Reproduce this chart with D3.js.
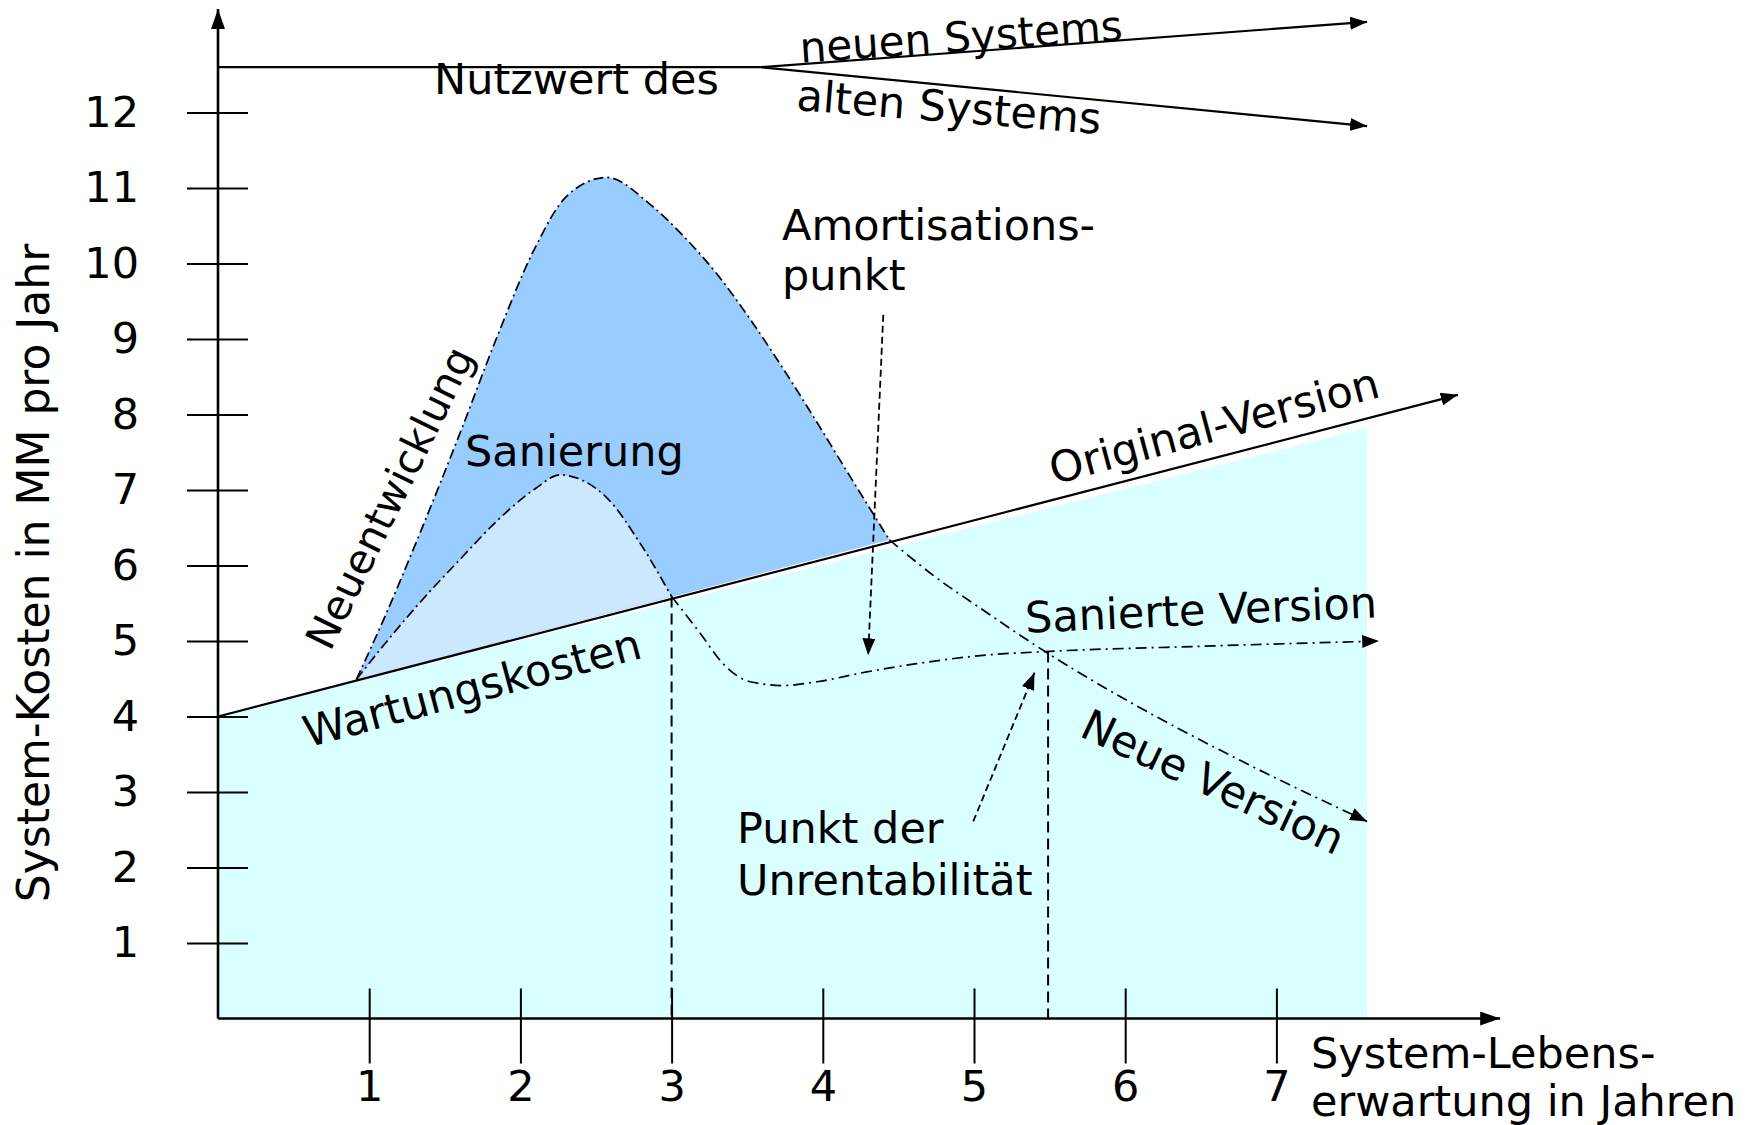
<!DOCTYPE html>
<html>
<head>
<meta charset="utf-8">
<script src="https://cdn.jsdelivr.net/npm/d3@7"></script>
<style>
  body { margin: 0; background: #fff; }
  svg text { font-family: "DejaVu Sans", Verdana, sans-serif; fill: #000; }
</style>
</head>
<body>
<svg width="1746" height="1125"></svg>
<script>
// Tick values
var xTicks = [1, 2, 3, 4, 5, 6, 7];
var yTicks = [1, 2, 3, 4, 5, 6, 7, 8, 9, 10, 11, 12];

// Wartungskosten der Original-Version (straight line)
var originalX = [0, 8.2];
var originalY = [4, 8.26];
var wartungFillX = [0, 7.6];
var wartungFillY = [4, 7.82];

// Neuentwicklung: hump up to the Amortisationspunkt, then "Neue Version"
var neuX = [0.915, 1.09, 1.34, 1.6, 1.85, 2.09, 2.31, 2.57, 2.86, 3.08, 3.3, 3.52, 3.74, 3.96, 4.18, 4.44];
var neuY = [4.49, 5.26, 6.45, 7.75, 9.05, 10.18, 10.9, 11.14, 10.78, 10.36, 9.86, 9.26, 8.6, 7.9, 7.18, 6.34];
var neueVersionX = [4.44, 4.73, 5.06, 5.47, 6.05, 6.71, 7.6];
var neueVersionY = [6.34, 5.87, 5.41, 4.86, 4.17, 3.47, 2.61];

// Sanierung: hump, then "Sanierte Version"
var sanX = [0.915, 1.09, 1.34, 1.6, 1.85, 2.1, 2.26, 2.57, 2.79, 3.0];
var sanY = [4.49, 4.93, 5.52, 6.08, 6.6, 7.02, 7.2, 6.9, 6.3, 5.59];
var sanierteX = [3.0, 3.19, 3.34, 3.52, 3.74, 3.96, 4.29, 4.62, 5.06, 5.47, 6.5, 7.68];
var sanierteY = [5.59, 5.1, 4.7, 4.46, 4.41, 4.46, 4.59, 4.7, 4.81, 4.86, 4.93, 5.0];

// Vertical marker lines (Amortisation der Sanierung / Punkt der Unrentabilitaet)
var markX = [3.0, 5.49];
var markY = [5.59, 4.86];

// Nutzwert lines
var nutzwertX = [0, 3.59];
var nutzwertY = [12.6, 12.6];
var nutzNeuX = [3.59, 7.6], nutzNeuY = [12.6, 13.2];
var nutzAltX = [3.59, 7.6], nutzAltY = [12.6, 11.82];

// annotation arrows
var amortX = [4.40, 4.30], amortY = [9.32, 4.81];
var unrentX = [4.995, 5.40], unrentY = [2.61, 4.58];

// axis ends
var xAxisEnd = 8.48, yAxisEnd = 13.37;

var svg = d3.select("svg");

var x = d3.scaleLinear().domain([0, 8]).range([218, 1427.6]);
var y = d3.scaleLinear().domain([0, 12]).range([1018.5, 112.5]);

var defs = svg.append("defs");
function marker(id, len, wid) {
    defs.append("marker")
        .attr("id", id)
        .attr("markerUnits", "userSpaceOnUse")
        .attr("viewBox", "0 0 " + len + " " + wid)
        .attr("refX", len).attr("refY", wid / 2)
        .attr("markerWidth", len).attr("markerHeight", wid)
        .attr("orient", "auto")
        .append("path")
        .attr("d", "M0,0L" + len + "," + (wid / 2) + "L0," + wid + "Z")
        .attr("fill", "#000");
}
marker("arrowBig", 20, 14);
marker("arrow", 17, 13);

var smooth = d3.line()
    .x(function(d) { return x(d[0]); })
    .y(function(d) { return y(d[1]); })
    .curve(d3.curveMonotoneX);
var straight = d3.line()
    .x(function(d) { return x(d[0]); })
    .y(function(d) { return y(d[1]); });

// fills
var cyanPts = [[0, 0]].concat(d3.zip(wartungFillX, wartungFillY)).concat([[wartungFillX[1], 0]]);
svg.append("path").attr("d", straight(cyanPts) + "Z").attr("fill", "#D9FFFF");

svg.append("path").attr("d", smooth(d3.zip(neuX, neuY)) + "Z").attr("fill", "#99CCFF");
svg.append("path").attr("d", smooth(d3.zip(sanX, sanY)) + "Z").attr("fill", "#CCE8FF");

// vertical dashed lines
svg.selectAll("line.mark")
    .data(d3.zip(markX, markY))
    .enter().append("line")
    .attr("class", "mark")
    .attr("x1", function(d) { return x(d[0]); })
    .attr("x2", function(d) { return x(d[0]); })
    .attr("y1", function(d) { return y(d[1]); })
    .attr("y2", y(0))
    .attr("stroke", "#000").attr("stroke-width", 2)
    .attr("stroke-dasharray", "11,6");

// Original-Version line
svg.append("path").attr("d", straight(d3.zip(originalX, originalY)))
    .attr("fill", "none").attr("stroke", "#000").attr("stroke-width", 2.2)
    .attr("marker-end", "url(#arrow)");

// Nutzwert lines
svg.append("path").attr("d", straight(d3.zip(nutzwertX, nutzwertY)))
    .attr("fill", "none").attr("stroke", "#000").attr("stroke-width", 2.2);
[[nutzNeuX, nutzNeuY], [nutzAltX, nutzAltY]].forEach(function(s) {
    svg.append("path").attr("d", straight(d3.zip(s[0], s[1])))
        .attr("fill", "none").attr("stroke", "#000").attr("stroke-width", 2.2)
        .attr("marker-end", "url(#arrow)");
});

// curves
svg.append("path").attr("d", smooth(d3.zip(neuX, neuY)))
    .attr("fill", "none").attr("stroke", "#000").attr("stroke-width", 1.7)
    .attr("stroke-dasharray", "10,4,2,4");
svg.append("path").attr("d", smooth(d3.zip(neueVersionX, neueVersionY)))
    .attr("fill", "none").attr("stroke", "#000").attr("stroke-width", 1.7)
    .attr("stroke-dasharray", "11,5,2,5")
    .attr("marker-end", "url(#arrow)");
svg.append("path").attr("d", smooth(d3.zip(sanX, sanY)))
    .attr("fill", "none").attr("stroke", "#000").attr("stroke-width", 1.7)
    .attr("stroke-dasharray", "10,4,2,4");
svg.append("path").attr("d", smooth(d3.zip(sanierteX, sanierteY)))
    .attr("fill", "none").attr("stroke", "#000").attr("stroke-width", 1.7)
    .attr("stroke-dasharray", "11,5,2,5")
    .attr("marker-end", "url(#arrow)");

// annotation arrows
[[amortX, amortY], [unrentX, unrentY]].forEach(function(s) {
    svg.append("path").attr("d", straight(d3.zip(s[0], s[1])))
        .attr("fill", "none").attr("stroke", "#000").attr("stroke-width", 1.8)
        .attr("stroke-dasharray", "7,4")
        .attr("marker-end", "url(#arrow)");
});

// axes
var gy = svg.append("g")
    .attr("transform", "translate(" + x(0) + ",0)")
    .call(d3.axisLeft(y).tickValues(yTicks).tickSize(31).tickPadding(48));
gy.select(".domain").remove();
gy.attr("font-size", 43).attr("font-family", "DejaVu Sans, Verdana, sans-serif");
gy.selectAll(".tick line").attr("x1", 30).attr("stroke-width", 2);

var gx = svg.append("g")
    .attr("transform", "translate(0," + y(0) + ")")
    .call(d3.axisBottom(x).tickValues(xTicks).tickSize(45).tickPadding(7).tickFormat(d3.format("d")));
gx.select(".domain").remove();
gx.attr("font-size", 43).attr("font-family", "DejaVu Sans, Verdana, sans-serif");
gx.selectAll(".tick line").attr("y1", -30).attr("stroke-width", 2);

svg.append("line")
    .attr("x1", x(0)).attr("y1", y(0)).attr("x2", x(0)).attr("y2", y(yAxisEnd))
    .attr("stroke", "#000").attr("stroke-width", 2.6).attr("marker-end", "url(#arrowBig)");
svg.append("line")
    .attr("x1", x(0)).attr("y1", y(0)).attr("x2", x(xAxisEnd)).attr("y2", y(0))
    .attr("stroke", "#000").attr("stroke-width", 2.6).attr("marker-end", "url(#arrowBig)");

// labels
function label(txt, px, py, rot, anchor, center) {
    var t = svg.append("text")
        .attr("transform", "translate(" + px + "," + py + ") rotate(" + (rot || 0) + ")")
        .attr("font-size", 43)
        .attr("text-anchor", anchor || "start")
        .text(txt);
    if (center) t.attr("dominant-baseline", "central");
    return t;
}

label("System-Kosten in MM pro Jahr", 33, 573, -90, "middle", true).attr("font-size", 44);
label("System-Lebens-", 1311, 1068);
label("erwartung in Jahren", 1311, 1116);

label("Nutzwert des", 434, 94);
label("neuen Systems", 961, 37, -4, "middle", true).attr("font-size", 42);
label("alten Systems", 949, 107, 4.5, "middle", true);
label("Amortisations-", 782, 240);
label("punkt", 782, 290);
label("Neuentwicklung", 390, 498, -64, "middle", true).attr("font-size", 41);
label("Sanierung", 465, 466);
label("Original-Version", 1214, 426, -15, "middle", true);
label("Wartungskosten", 472, 688, -15, "middle", true);
label("Sanierte Version", 1201, 610, -2.5, "middle", true);
label("Neue Version", 1213, 782, 25, "middle", true);
label("Punkt der", 737, 843);
label("Unrentabilität", 737, 895);
</script>
</body>
</html>
